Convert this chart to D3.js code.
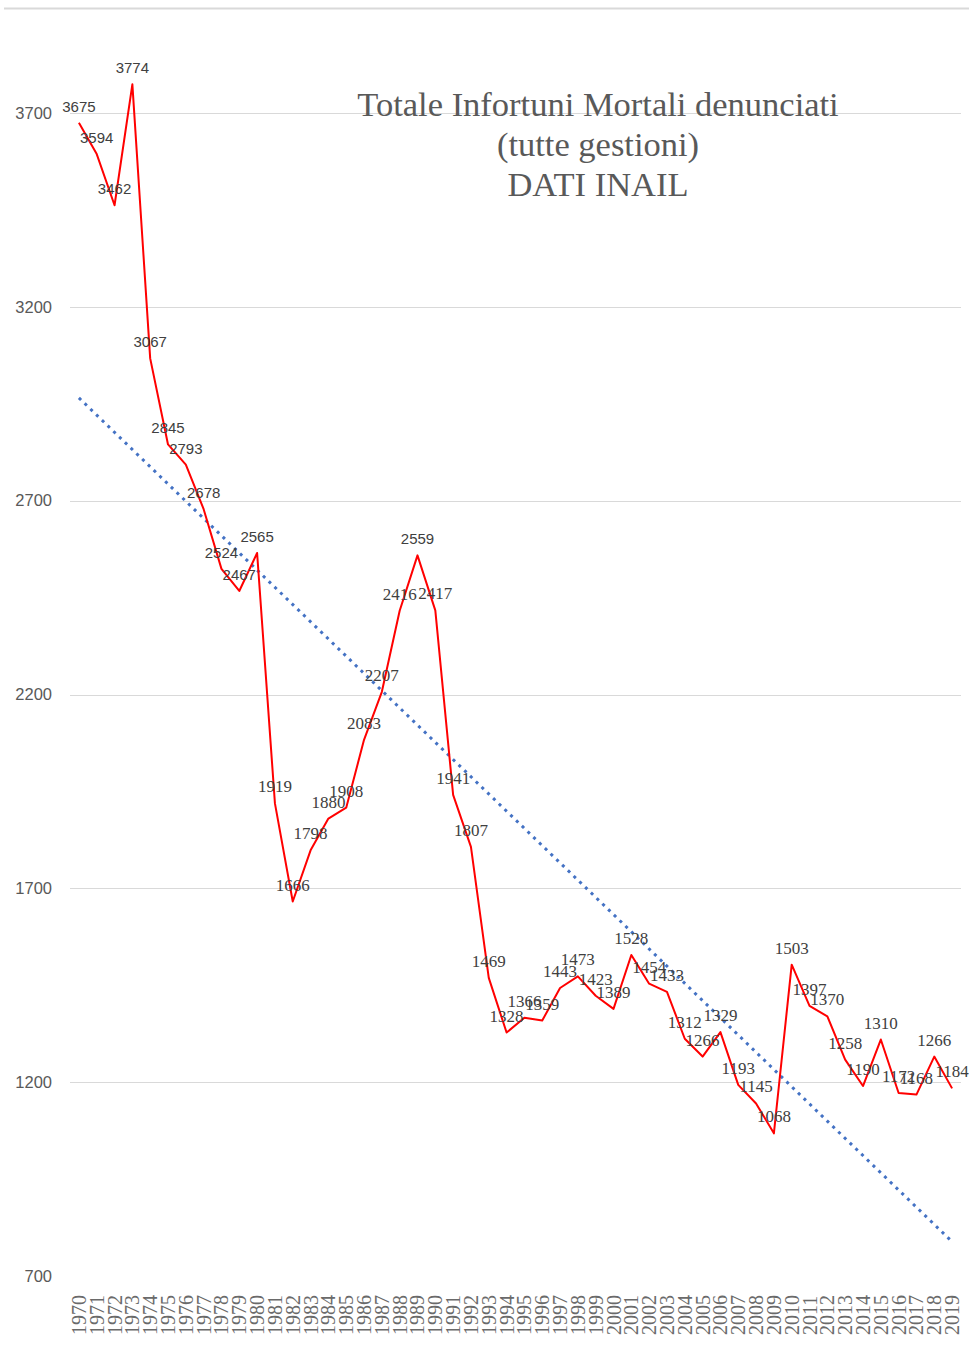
<!DOCTYPE html>
<html>
<head>
<meta charset="utf-8">
<script src="https://cdn.jsdelivr.net/npm/d3@7"></script>
<style>
  html, body { margin: 0; padding: 0; background: #fff; }
  svg { display: block; }
</style>
</head>
<body>
<svg id="chart" width="969" height="1356"></svg>
<script>
// Fatal workplace accidents reported to INAIL, all sectors, 1970-2019
const years = d3.range(1970, 2020).map(String);
const deaths = [
  3675, 3594, 3462, 3774, 3067, 2845, 2793, 2678, 2524, 2467,
  2565, 1919, 1666, 1798, 1880, 1908, 2083, 2207, 2416, 2559,
  2417, 1941, 1807, 1469, 1328, 1366, 1359, 1443, 1473, 1423,
  1389, 1528, 1454, 1433, 1312, 1266, 1329, 1193, 1145, 1068,
  1503, 1397, 1370, 1258, 1190, 1310, 1172, 1168, 1266, 1184
];
const yTicks = [700, 1200, 1700, 2200, 2700, 3200, 3700];
const titleLines = ["Totale Infortuni Mortali denunciati", "(tutte gestioni)", "DATI INAIL"];

const svg = d3.select("#chart");
const plot = { left: 70, right: 961, top: 113, bottom: 1276 };

const x = d3.scaleBand().domain(years).range([plot.left, plot.right]);
const cx = d => x(d) + x.bandwidth() / 2;
const y = d3.scaleLinear().domain([700, 3700]).range([plot.bottom, plot.top]);

// chart frame top edge
svg.append("line")
  .attr("x1", 4).attr("x2", 969).attr("y1", 8.5).attr("y2", 8.5)
  .attr("stroke", "#d9d9d9").attr("stroke-width", 2);

// horizontal gridlines
svg.append("g")
  .selectAll("line")
  .data(yTicks.filter(v => v > 700))
  .join("line")
  .attr("x1", plot.left).attr("x2", plot.right)
  .attr("y1", d => Math.round(y(d)) + 0.5).attr("y2", d => Math.round(y(d)) + 0.5)
  .attr("stroke", "#d9d9d9").attr("stroke-width", 1);

// y axis labels
const yAxis = d3.axisLeft(y).tickValues(yTicks).tickFormat(d3.format("d")).tickSize(0).tickPadding(0);
svg.append("g")
  .attr("transform", "translate(52,0)")
  .call(yAxis)
  .call(g => g.select(".domain").remove())
  .call(g => g.selectAll("text")
    .attr("fill", "#595959")
    .attr("font-family", "'Liberation Sans', Arial, sans-serif")
    .attr("font-size", 16.5));

// x axis labels, rotated
const xAxis = d3.axisBottom(x).tickSize(0).tickPadding(0);
svg.append("g")
  .attr("transform", "translate(0,1335)")
  .call(xAxis)
  .call(g => g.select(".domain").remove())
  .call(g => g.selectAll("text")
    .attr("fill", "#6a6a6a")
    .attr("font-family", "'Liberation Serif', 'Times New Roman', serif")
    .attr("font-size", 20)
    .attr("text-anchor", "start")
    .attr("transform", "rotate(-90)")
    .attr("x", 0).attr("y", 0).attr("dy", "0.35em"));

// linear trend line (least squares)
const n = deaths.length;
const idx = d3.range(n);
const mx = d3.mean(idx), my = d3.mean(deaths);
const slope = d3.sum(idx, i => (i - mx) * (deaths[i] - my)) / d3.sum(idx, i => (i - mx) ** 2);
const intercept = my - slope * mx;
const trend = [0, n - 1].map(i => ({ year: years[i], v: intercept + slope * i }));

svg.append("path")
  .datum(trend)
  .attr("fill", "none")
  .attr("stroke", "#4472C4")
  .attr("stroke-width", 3)
  .attr("stroke-dasharray", "3,5")
  .attr("d", d3.line().x(d => cx(d.year)).y(d => y(d.v)));

// data series
svg.append("path")
  .datum(deaths)
  .attr("fill", "none")
  .attr("stroke", "#ff0000")
  .attr("stroke-width", 2)
  .attr("stroke-linejoin", "round")
  .attr("d", d3.line().x((d, i) => cx(years[i])).y(d => y(d)));

// value labels above each point
svg.append("g")
  .selectAll("text")
  .data(deaths)
  .join("text")
  .attr("x", (d, i) => cx(years[i]))
  .attr("y", d => y(d) - 11)
  .attr("text-anchor", "middle")
  .attr("fill", "#404040")
  .attr("font-family", d => d > 2450 ? "'Liberation Sans', Arial, sans-serif" : "'Liberation Serif', 'Times New Roman', serif")
  .attr("font-size", d => d > 2450 ? 15 : 17)
  .text(d => d);

// title
svg.append("g")
  .selectAll("text")
  .data(titleLines)
  .join("text")
  .attr("x", 598)
  .attr("y", (d, i) => 116 + i * 40)
  .attr("text-anchor", "middle")
  .attr("fill", "#595959")
  .attr("font-family", "'Liberation Serif', 'Times New Roman', serif")
  .attr("font-size", 34.5)
  .text(d => d);
</script>
</body>
</html>
